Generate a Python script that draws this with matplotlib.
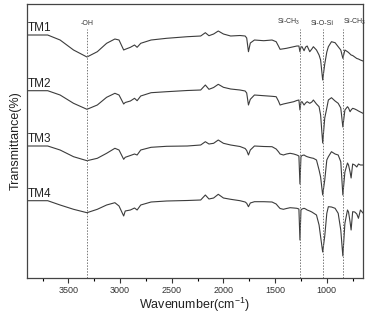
import matplotlib
matplotlib.use("Agg")
import matplotlib.pyplot as plt
from matplotlib.ticker import MultipleLocator
import numpy as np

plt.rcParams['font.family'] = ['Liberation Sans', 'DejaVu Sans']

# wavenumbers (cm-1) shared by all spectra
wavenumber = [3900, 3700, 3580, 3450, 3320, 3220, 3130, 3050, 3010, 2965, 2950, 2900,
              2860, 2835, 2800, 2700, 2550, 2350, 2220, 2175, 2140, 2095, 2050, 2000,
              1930, 1840, 1790, 1775, 1758, 1740, 1700, 1610, 1530, 1490, 1468, 1452,
              1420, 1390, 1355, 1320, 1290, 1270, 1260, 1250, 1240, 1220, 1205, 1190,
              1165, 1145, 1130, 1100, 1075, 1060, 1040, 1020, 1000, 985, 955, 920,
              890, 865, 845, 825, 800, 790, 775, 765, 750, 730, 710, 694, 675, 650]

# stacked transmittance (arbitrary units, curves already offset as in the figure)
tm1 = [243, 243, 238, 228, 221, 226.3, 234.7, 239, 238, 228, 228.7, 230.7,
       233, 230.7, 234.7, 238, 239.7, 241.3, 242, 245.3, 242.3, 244, 247, 244,
       242, 242.5, 242, 240, 226.3, 235, 238, 237.3, 238, 236.3, 232, 228.7,
       229.2, 229.7, 230.5, 231.3, 232, 232, 226.3, 231, 231.3, 227.3, 231, 232,
       226.3, 229, 231.3, 228, 223, 218, 198, 214, 226, 231.3, 236.3, 235.3,
       231.3, 228, 219.7, 228, 226.3, 225.5, 224, 223, 222.5, 221, 219.5, 219, 218, 217]
tm2 = [187.3, 187.3, 183, 174.7, 168.7, 173, 180.7, 184.7, 183, 174, 175.5, 177,
       179.7, 177.3, 182, 185.3, 186.3, 187.5, 188, 193, 188.7, 190.5, 193.7, 190.7,
       189, 188, 187, 185, 173, 178.7, 183, 182.3, 181.7, 181.3, 177, 173,
       174, 174.7, 175.5, 176.3, 177.5, 178, 168, 176, 176.3, 173, 175, 176.3,
       174.7, 176, 178, 174, 171.3, 163, 135, 160, 170, 178, 180.3, 177,
       174.7, 170, 151, 168, 171.3, 170, 166.3, 168, 169.7, 169, 168, 167, 166, 164.7]
tm3 = [132, 132, 128, 121.3, 117.3, 119.7, 124.7, 129.7, 128, 118.7, 120.7, 122.5,
       124, 123, 128, 130.7, 131.7, 132, 133, 136.3, 134, 134.7, 138, 134.7,
       133, 131.5, 129.5, 127.5, 123, 128, 132, 131.5, 131.3, 129, 126.3, 124,
       123, 124, 124.7, 124, 123, 122, 94, 121.3, 122.5, 123, 122, 121.3,
       120.5, 120, 119.7, 118, 108, 101, 83, 98, 118, 121.3, 126.3, 124,
       123, 116.3, 83, 106, 115, 113, 106, 100, 114, 113, 111, 114, 113, 113]
tm4 = [77.3, 77.3, 73, 68.7, 65.3, 68.7, 73, 75.3, 72, 62, 67, 68,
       70, 68, 73, 76, 77, 77.5, 78, 83, 79, 80, 83.7, 80,
       78.7, 77.3, 76, 74.7, 71.3, 75, 76.3, 76.3, 76, 74, 71.3, 69.5,
       68.7, 69.5, 70.3, 70, 69.7, 69, 38, 68, 69, 69.7, 69, 68,
       67, 66, 65, 63, 53, 41.3, 26, 42, 64.7, 71.3, 71, 69.7,
       64.7, 48, 22, 54.7, 68, 66, 56, 48, 66.3, 66, 64, 59.7, 68, 65]

series = [("TM1", tm1), ("TM2", tm2), ("TM3", tm3), ("TM4", tm4)]

# assignments marked with dotted lines
band_pos = [3320, 1258, 1041, 845]
band_labels = ["-OH", "Si-CH$_\\mathregular{3}$", "Si-O-Si", "Si-CH$_\\mathregular{3}$"]
band_align = ["center", "right", "center", "left"]

fig = plt.figure(figsize=(3.66, 3.18), dpi=100)
ax = fig.add_axes([0.0738, 0.1258, 0.918, 0.8616])

line_color = "#3c3c3c"
for name, vals in series:
    ax.plot(wavenumber, vals, color=line_color, lw=0.8)
    ax.text(3893, vals[0] + 1, name, fontsize=8.5, color="#222222",
            ha="left", va="bottom")

for pos, lab, ha in zip(band_pos, band_labels, band_align):
    ax.plot([pos, pos], [0, 249], color="#777777", lw=0.7, ls=(0, (1.5, 1.5)))
    ax.text(pos, 251, lab, fontsize=5, color="#333333", ha=ha, va="bottom")

ax.set_xlim(3900, 650)
ax.set_ylim(0, 274)
ax.xaxis.set_major_locator(MultipleLocator(500))
ax.xaxis.set_minor_locator(MultipleLocator(250))
ax.set_yticks([])
ax.tick_params(axis="x", which="major", direction="out", length=3.5, width=0.8,
               labelsize=6.5, pad=2, colors="#333333", top=False)
ax.tick_params(axis="x", which="minor", direction="out", length=2, width=0.8, top=False)
for sp in ax.spines.values():
    sp.set_color("#444444")
    sp.set_linewidth(0.9)

ax.set_xlabel("Wavenumber(cm$^{\\mathregular{-1}}$)", fontsize=9, color="#222222", labelpad=1)
ax.set_ylabel("Transmittance(%)", fontsize=9, color="#222222", labelpad=4)

fig.savefig("out.png", dpi=100)
